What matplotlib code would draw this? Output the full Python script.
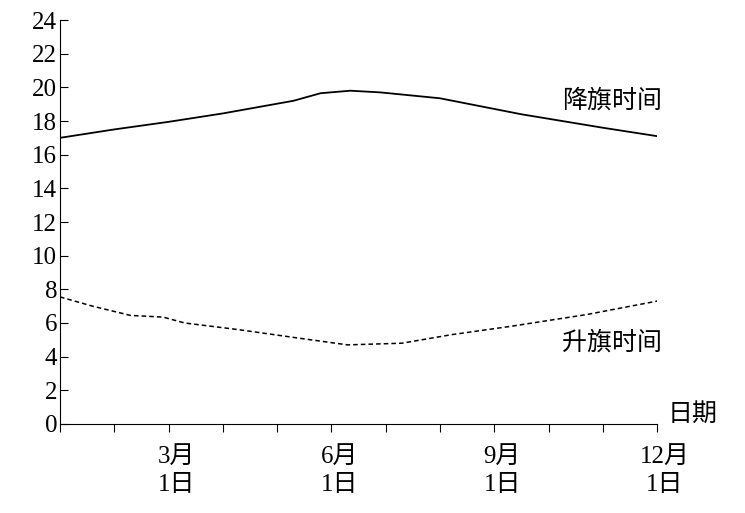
import matplotlib.pyplot as plt
from matplotlib.transforms import ScaledTranslation

plt.rcParams['font.family'] = ['Liberation Serif', 'Noto Sans CJK SC']

# month position: 0 = 1月1日 ... 11 = 12月1日
sunset_x = [0, 1, 2, 3, 4.3, 4.8, 5.35, 5.9, 7.0, 8.5, 10, 11]
sunset_y = [17.0, 17.5, 17.95, 18.45, 19.2, 19.65, 19.8, 19.7, 19.35, 18.4, 17.6, 17.1]
sunrise_x = [0, 0.6, 1.3, 1.9, 2.3, 3.3, 4.4, 5.3, 6.3, 7.2, 8.3, 9.7, 11]
sunrise_y = [7.55, 7.0, 6.45, 6.35, 6.0, 5.6, 5.1, 4.7, 4.8, 5.3, 5.8, 6.5, 7.3]
tick_labels = {2: '3月\n1日', 5: '6月\n1日', 8: '9月\n1日', 11: '12月\n1日'}

fig = plt.figure(figsize=(7.45, 5.13), dpi=100)
ax = fig.add_axes([0.0805, 0.1735, 0.8015, 0.7875])
ax.plot(sunset_x, sunset_y, 'k-', lw=1.3)
ax.plot(sunrise_x, sunrise_y, 'k--', lw=1.1, dashes=(3, 2))
ax.set_xlim(0, 11)
ax.set_ylim(0, 24)
ax.spines['top'].set_visible(False)
ax.spines['right'].set_visible(False)
ax.set_yticks(range(0, 25, 2))
ax.tick_params(axis='y', direction='in', labelsize=18, length=6, pad=2)
ax.set_xticks(range(12))
ax.set_xticklabels([tick_labels.get(i, '') for i in range(12)], fontsize=18, linespacing=1.35)
ax.tick_params(axis='x', direction='out', length=6, pad=10)
offset = ScaledTranslation(0.08, 0, fig.dpi_scale_trans)
for lab in ax.get_xticklabels():
    lab.set_transform(lab.get_transform() + offset)
ax.text(11.2, 0.2, '日期', fontsize=18)
ax.text(9.25, 18.8, '降旗时间', fontsize=18)
ax.text(9.25, 4.4, '升旗时间', fontsize=18)
fig.savefig('out.png', dpi=100)
